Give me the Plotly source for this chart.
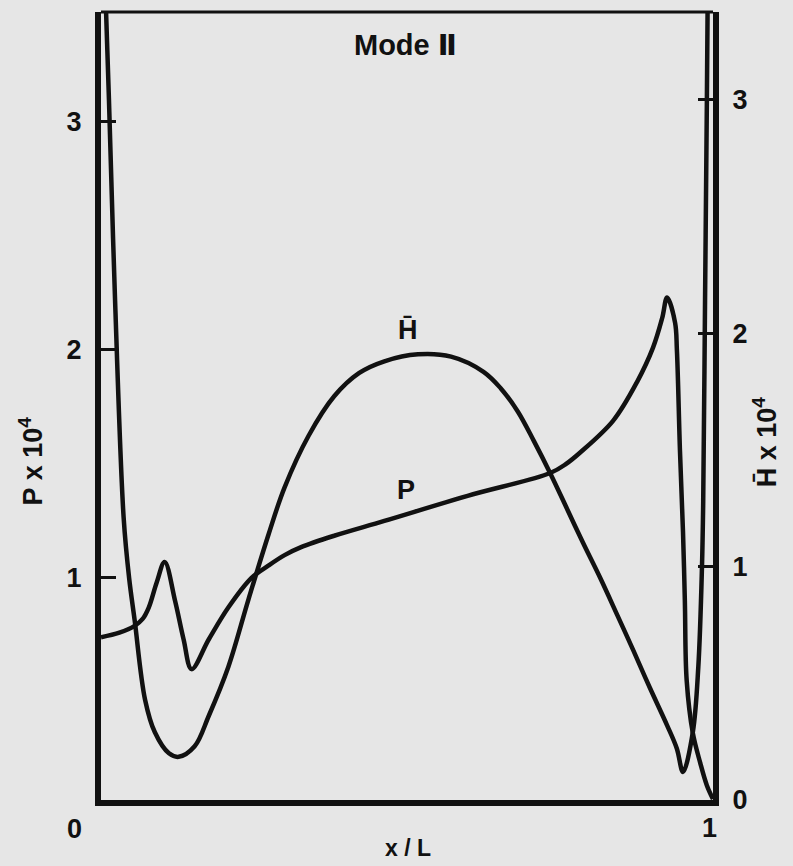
import plotly.graph_objects as go

# ---- data ----
x_p = [0.0, 0.03, 0.055, 0.068, 0.078, 0.091, 0.104, 0.121, 0.135, 0.148, 0.176, 0.208,
       0.246, 0.274, 0.300, 0.327, 0.381, 0.463, 0.599, 0.734, 0.760, 0.783, 0.837, 0.876,
       0.902, 0.917, 0.925, 0.938, 0.941, 0.946, 0.951, 0.954, 0.957, 0.967, 0.979,
       0.990, 1.0]
p_vals = [0.74, 0.76, 0.79, 0.82, 0.87, 0.98, 1.07, 0.90, 0.73, 0.60, 0.73, 0.87,
          1.0, 1.055, 1.10, 1.135, 1.185, 1.25, 1.36, 1.46, 1.50, 1.55, 1.69, 1.86,
          2.01, 2.14, 2.23, 2.12, 2.0, 1.56, 1.20, 0.90, 0.55, 0.32, 0.19,
          0.09, 0.03]

x_h = [0.0, 0.008, 0.013, 0.023, 0.037, 0.046, 0.055, 0.072, 0.088, 0.111, 0.127, 0.153,
       0.176, 0.208, 0.241, 0.274, 0.300, 0.339, 0.381, 0.422, 0.463, 0.518, 0.572,
       0.625, 0.653, 0.681, 0.707, 0.735, 0.762, 0.788, 0.816, 0.844, 0.870, 0.897,
       0.925, 0.941, 0.951, 0.967, 0.976, 0.982, 0.984, 0.987, 0.990, 0.993]
h_vals = [4.1, 3.4, 3.0, 2.14, 1.21, 0.95, 0.77, 0.43, 0.29, 0.20, 0.185, 0.23,
          0.36, 0.57, 0.86, 1.14, 1.34, 1.56, 1.73, 1.83, 1.88, 1.91, 1.90,
          1.835, 1.765, 1.665, 1.54, 1.395, 1.245, 1.10, 0.95, 0.79, 0.64, 0.48,
          0.32, 0.22, 0.12, 0.29, 0.57, 1.0, 1.28, 2.14, 3.0, 4.0]

left_ticks = [1, 2, 3]
right_ticks = [0, 1, 2, 3]

BG = "#e6e6e6"
INK = "#111111"
FONT = "Liberation Sans"

fig = go.Figure()
fig.add_trace(go.Scatter(x=x_p, y=p_vals, mode="lines", yaxis="y",
                         line=dict(color=INK, width=4.5, shape="spline", smoothing=1.0),
                         showlegend=False, hoverinfo="skip"))
fig.add_trace(go.Scatter(x=x_h, y=h_vals, mode="lines", yaxis="y2",
                         line=dict(color=INK, width=4.5, shape="spline", smoothing=1.0),
                         showlegend=False, hoverinfo="skip"))

tick_font = dict(family=FONT, size=27, color=INK, weight="bold")

fig.update_layout(
    width=793, height=866,
    margin=dict(l=101, r=80, t=12, b=66),
    paper_bgcolor=BG, plot_bgcolor=BG,
    xaxis=dict(range=[0, 1], showgrid=False, zeroline=False, showticklabels=False,
               ticks="", showline=True, linewidth=6, linecolor=INK),
    yaxis=dict(range=[0.026, 3.482], showgrid=False, zeroline=False,
               tickvals=left_ticks, ticktext=[str(v) for v in left_ticks],
               ticks="inside", ticklen=15, tickwidth=2.5, tickcolor=INK,
               tickfont=tick_font, ticklabelstandoff=8,
               showline=True, linewidth=6, linecolor=INK),
    yaxis2=dict(range=[0, 3.377], overlaying="y", side="right", showgrid=False,
                zeroline=False, tickvals=right_ticks,
                ticktext=[str(v) for v in right_ticks],
                ticks="inside", ticklen=15, tickwidth=2.5, tickcolor=INK,
                tickfont=tick_font, ticklabelstandoff=8,
                showline=True, linewidth=6, linecolor=INK),
    shapes=[dict(type="line", xref="paper", yref="paper", x0=0, x1=1, y0=1, y1=1,
                 line=dict(color=INK, width=3))],
)

def ann(text, x, y, size=27, angle=0):
    fig.add_annotation(text=text, x=x, y=y, xref="paper", yref="paper",
                       xanchor="center", yanchor="middle", showarrow=False,
                       textangle=angle,
                       font=dict(family=FONT, size=size, color=INK, weight="bold"))

ann("Mode <span style='font-family:DejaVu Sans'>\u2161</span>", 0.498, 0.958, size=29)
ann("H\u0304", 0.502, 0.597, size=27)
ann("P", 0.498, 0.393, size=27)
ann("0", -0.044, -0.037, size=27)
ann("1", 0.995, -0.036, size=27)
ann("x / L", 0.501, -0.061, size=23)
ann("P x 10<sup>4</sup>", -0.114, 0.430, size=27, angle=-90)
ann("H\u0304 x 10<sup>4</sup>", 1.085, 0.454, size=27, angle=-90)

fig.write_html("out.html", config={"displayModeBar": False},
               post_script="document.body.style.margin='0';")
